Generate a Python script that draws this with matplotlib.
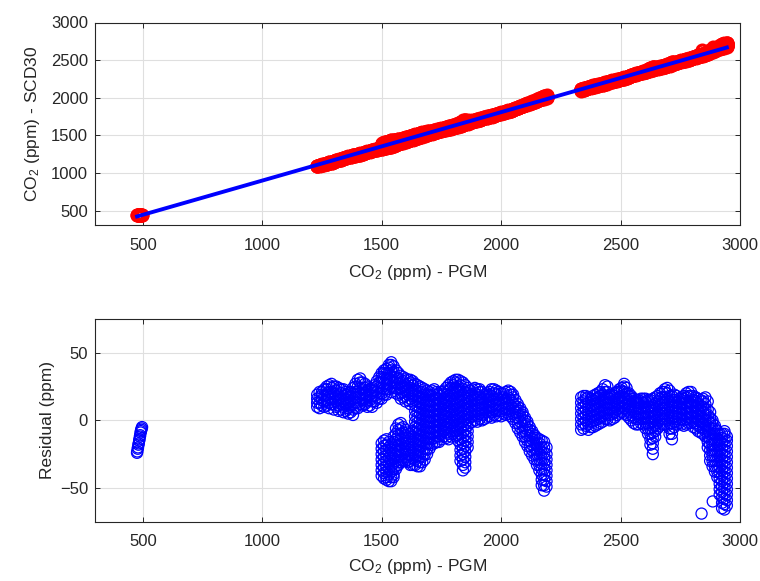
import numpy as np
import matplotlib
matplotlib.use('Agg')
import matplotlib.pyplot as plt

plt.rcParams['font.family'] = ['Liberation Sans', 'DejaVu Sans']
plt.rcParams['mathtext.fontset'] = 'custom'
plt.rcParams['mathtext.rm'] = 'Liberation Sans'
plt.rcParams['mathtext.it'] = 'Liberation Sans:italic'

# linear calibration
fit_slope = 0.909
fit_intercept = -9.0

# cluster near 500 ppm
cluster_a_pgm = [476, 477, 479, 480, 482, 483, 485, 486, 488, 489, 491, 492, 494, 495, 497]
cluster_a_res = [-24, -23, -21, -20, -18, -17, -15, -14, -12, -11, -9, -8, -7, -6, -5]

# cluster 1230-2190 ppm: PGM position and residuals read at that position
cluster_b_pgm = list(range(1230, 2200, 10))
cluster_b_res = [
    [10, 13, 16, 19],                                   # 1230
    [9, 13, 17, 21],
    [11, 15, 19, 21],
    [10, 14, 18, 23],
    [11, 15, 19, 23, 25],
    [9, 13, 17, 21, 26],                                # 1280
    [12, 16, 20, 24, 27],
    [8, 12, 16, 20, 25],
    [10, 14, 18, 22, 25],
    [7, 11, 15, 19, 24],
    [8, 12, 16, 20, 23],                                # 1330
    [6, 10, 14, 18, 23],
    [7, 11, 15, 19, 21],
    [5, 9, 13, 17, 20],
    [6, 10, 14, 18, 21],
    [4, 8, 12, 16, 20, 24],                             # 1380
    [9, 13, 17, 21, 25, 27],
    [9, 13, 17, 21, 25, 30],
    [12, 16, 20, 24, 28, 31],
    [11, 15, 19, 23, 28],
    [12, 16, 20, 24, 27],                               # 1430
    [10, 14, 18, 22, 25],
    [11, 15, 19, 23],
    [10, 14, 18, 22, 24],
    [14, 18, 22, 26],
    [13, 17, 21, 25, 29],                               # 1480
    [16, 20, 24, 28, 32],
    [16, 20, 24, 28, 32, 35, -17, -21, -25, -29, -33, -37, -41],
    [19, 23, 27, 31, 35, 37, -15, -19, -23, -27, -31, -35, -39, -43],
    [19, 23, 27, 31, 35, 38, -14, -18, -22, -26, -30, -34, -38, -42, -44],
    [23, 27, 31, 35, 39, 41, -16, -20, -24, -28, -32, -36, -40, -45],       # 1530
    [21, 25, 29, 33, 37, 41, 43, -18, -22, -26, -30, -34, -38, -42, -45],
    [24, 28, 32, 36, 40, -12, -16, -20, -24, -28, -32, -36, -40, -42],
    [20, 24, 28, 32, 37, -6, -10, -14, -18, -22, -26, -30, -34, -36],
    [19, 23, 27, 31, 35, -3, -7, -11, -15, -19, -23, -27, -31, -33],
    [16, 20, 24, 28, 33, -2, -6, -10, -14, -18, -22, -26, -31],             # 1580
    [17, 21, 25, 29, 32, -5, -9, -13, -17, -21, -25, -30],
    [14, 18, 22, 26, 31, -7, -11, -15, -19, -23, -27, -30],
    [15, 19, 23, 27, 30, -9, -13, -17, -21, -25, -29, -31],
    [12, 16, 20, 24, 28, 30, -10, -14, -18, -22, -26, -30, -33],
    [14, 18, 22, 26, 29, -8, -12, -16, -20, -24, -28, -33],                 # 1630
    [-33, -29, -25, -21, -17, -13, -9, -5, -1, 3, 7, 11, 15, 19, 23, 27],
    [-34, -30, -26, -22, -18, -14, -10, -6, -2, 2, 6, 10, 14, 18, 22, 26],
    [-34, -31, -27, -23, -19, -15, -11, -7, -3, 1, 5, 9, 13, 17, 21, 25],
    [-31, -27, -23, -19, -15, -11, -7, -3, 1, 5, 9, 13, 17, 21, 24],
    [-29, -25, -21, -17, -13, -9, -5, -1, 3, 7, 11, 15, 19, 23],            # 1680
    [-25, -21, -17, -13, -9, -5, -1, 3, 7, 11, 15, 19, 22],
    [-21, -17, -13, -9, -5, -1, 3, 7, 11, 15, 19, 21],
    [-18, -14, -10, -6, -2, 2, 6, 10, 14, 18, 22],
    [-17, -13, -9, -5, -1, 3, 7, 11, 15, 19, 23],
    [-16, -12, -8, -4, 0, 4, 8, 12, 16, 21],                                # 1730
    [-16, -12, -8, -4, 0, 4, 8, 12, 16, 20],
    [-14, -10, -6, -2, 2, 6, 10, 14, 18, 21],
    [-12, -8, -4, 0, 4, 8, 12, 16, 20, 22],
    [-13, -9, -5, -1, 3, 7, 11, 15, 19, 24],
    [-14, -10, -6, -2, 2, 6, 10, 14, 18, 22, 26],                           # 1780
    [-12, -8, -4, 0, 4, 8, 12, 16, 20, 24, 28],
    [-10, -6, -2, 2, 6, 10, 14, 18, 22, 26, 29],
    [-12, -8, -4, 0, 4, 8, 12, 16, 20, 24, 28, 30],
    [-15, -11, -7, -3, 1, 5, 9, 13, 17, 21, 25, 30],
    [-30, -26, -22, -18, -14, -10, -6, -2, 2, 6, 10, 14, 18, 22, 26, 29],   # 1830
    [-37, -33, -29, -25, -21, -17, -13, -9, -5, -1, 3, 7, 11, 15, 19, 23, 28],
    [-35, -31, -27, -23, -19, -15, -11, -7, -3, 1, 5, 9, 13, 17, 21, 26],
    [-20, -16, -12, -8, -4, 0, 4, 8, 12, 16, 20, 24],
    [-2, 2, 6, 10, 14, 18, 22],
    [-1, 3, 7, 11, 15, 19, 23],                         # 1880
    [0, 4, 8, 12, 16, 20, 24],
    [-1, 3, 7, 11, 15, 19, 23],
    [1, 5, 9, 13, 17, 21, 23],
    [0, 4, 8, 12, 16, 21],
    [1, 5, 9, 13, 16, 19],                              # 1930
    [2, 6, 10, 14, 18, 20],
    [3, 7, 11, 15, 19, 21],
    [2, 6, 10, 14, 18, 23],
    [4, 8, 12, 16, 20, 23],
    [3, 7, 11, 15, 19, 22],                             # 1980
    [4, 8, 12, 16, 21],
    [3, 7, 11, 15, 20],
    [5, 9, 13, 17, 20],
    [4, 8, 12, 16, 21],
    [5, 9, 13, 17, 22],                                 # 2030
    [3, 7, 11, 15, 19, 21],
    [1, 5, 9, 13, 17, 19],
    [-2, 2, 6, 10, 15],
    [-6, -2, 2, 6, 10, 12],
    [-9, -5, -1, 3, 7, 9],                              # 2080
    [-12, -8, -4, 0, 4, 6],
    [-16, -12, -8, -4, 0, 2],
    [-19, -15, -11, -7, -3, -1],
    [-23, -19, -15, -11, -7, -5],
    [-26, -22, -18, -14, -10, -8],                      # 2130
    [-29, -25, -21, -17, -13, -11],
    [-33, -29, -25, -21, -17, -13],
    [-37, -33, -29, -25, -21, -17, -14],
    [-48, -44, -40, -36, -32, -28, -24, -20, -15],
    [-52, -48, -44, -40, -36, -32, -28, -24, -20, -16],  # 2180
    [-49, -45, -41, -37, -33, -29, -25, -20],
]

# cluster 2335-2945 ppm
cluster_c_pgm = list(range(2335, 2950, 10))
cluster_c_res = [
    [-7, -3, 1, 5, 9, 13, 17],                          # 2335
    [-6, -2, 2, 6, 10, 14, 18],
    [-4, 0, 4, 8, 12, 16, 18],
    [-7, -3, 1, 5, 9, 13, 17],
    [-5, -1, 3, 7, 11, 16],
    [-5, -1, 3, 7, 11, 15, 18],                         # 2385
    [-4, 0, 4, 8, 12, 16, 19],
    [-3, 1, 5, 9, 13, 17, 20],
    [-2, 2, 6, 10, 14, 18, 21],
    [-1, 3, 7, 11, 15, 19, 23],
    [1, 5, 9, 13, 17, 21, 26],                          # 2435
    [1, 5, 9, 13, 17, 21, 25],
    [0, 4, 8, 12, 16, 19],
    [1, 5, 9, 13, 17, 19],
    [2, 6, 10, 14, 18, 20],
    [4, 8, 12, 16, 21],                                 # 2485
    [5, 9, 13, 17, 21, 23],
    [6, 10, 14, 18, 22, 24],
    [5, 9, 13, 17, 21, 25, 27],
    [4, 8, 12, 16, 20, 24],
    [2, 6, 10, 14, 18, 20],                             # 2535
    [0, 4, 8, 12, 16, 18],
    [-2, 2, 6, 10, 14, 16],
    [-3, 1, 5, 9, 13, 15],
    [-3, 1, 5, 9, 13, 15],
    [-2, 2, 6, 10, 14, 16],                             # 2585
    [-3, 1, 5, 9, 13, 16],
    [-6, -2, 2, 6, 10, 14, 16],
    [-10, -6, -2, 2, 6, 10, 15],
    [-18, -14, -10, -6, -2, 2, 6, 10, 15],
    [-25, -21, -17, -13, -9, -5, -1, 3, 7, 11, 16],     # 2635
    [-12, -8, -4, 0, 4, 8, 12, 17],
    [-6, -2, 2, 6, 10, 14, 18],
    [-4, 0, 4, 8, 12, 16, 20],
    [-3, 1, 5, 9, 13, 17, 21],
    [-3, 1, 5, 9, 13, 17, 21, 23],                      # 2685
    [-4, 0, 4, 8, 12, 16, 20, 24],
    [-10, -6, -2, 2, 6, 10, 14, 18, 22],
    [-14, -10, -6, -2, 2, 6, 10, 14, 18],
    [-5, -1, 3, 7, 11, 15, 19],
    [-3, 1, 5, 9, 13, 18],                              # 2735
    [-2, 2, 6, 10, 14, 16],
    [-3, 1, 5, 9, 13, 17],
    [-4, 0, 4, 8, 12, 16, 18],
    [-3, 1, 5, 9, 13, 17, 20],
    [-2, 2, 6, 10, 14, 18, 21],                         # 2785
    [-2, 2, 6, 10, 14, 18, 21],
    [-5, -1, 3, 7, 11, 15, 18],
    [-6, -2, 2, 6, 10, 14, 17],
    [-8, -4, 0, 4, 8, 12, 16],
    [-9, -5, -1, 3, 7, 11, 15],                         # 2835
    [-10, -6, -2, 2, 6, 10, 14, 16],
    [-12, -8, -4, 0, 4, 8, 12, 17],
    [-20, -16, -12, -8, -4, 0, 4, 8, 14],
    [-30, -26, -22, -18, -14, -10, -6, -2, 2, 6],
    [-34, -30, -26, -22, -18, -14, -10, -6, -2, 0],     # 2885
    [-38, -34, -30, -26, -22, -18, -14, -10, -6, -4],
    [-42, -38, -34, -30, -26, -22, -18, -14, -10, -8],
    [-55, -51, -47, -43, -39, -35, -31, -27, -23, -19, -15, -10],
    [-65, -61, -57, -53, -49, -45, -41, -37, -33, -29, -25, -21, -17, -13, -10],
    [-66, -62, -58, -54, -50, -46, -42, -38, -34, -30, -26, -22, -18, -14, -10, -8],  # 2935
    [-63, -59, -55, -51, -47, -43, -39, -35, -31, -27, -23, -19, -15, -12],
]

outlier_pgm = [2839, 2886]
outlier_res = [-69, -60]


def flatten(positions, columns):
    xs, ys = [], []
    for p, col in zip(positions, columns):
        for v in col:
            xs.append(p)
            ys.append(v)
    return xs, ys


bx, br = flatten(cluster_b_pgm, cluster_b_res)
cx, cr = flatten(cluster_c_pgm, cluster_c_res)
pgm = np.array(cluster_a_pgm + bx + cx + outlier_pgm, dtype=float)
resid = np.array(cluster_a_res + br + cr + outlier_res, dtype=float)
scd30 = fit_slope * pgm + fit_intercept - resid

dark = '#262626'
grid_c = '#dfdfdf'

fig = plt.figure(figsize=(7.6, 5.81), dpi=100)
ax1 = fig.add_axes([95 / 760, 1 - 225 / 581, 645 / 760, 202.5 / 581])
ax2 = fig.add_axes([95 / 760, 1 - 521.7 / 581, 645 / 760, 202.7 / 581])

# top panel
ax1.plot(pgm, scd30, 'o', ms=7.8, mfc='none', mec='#ff0000', mew=2.3)
line_x = np.array([pgm.min(), pgm.max()])
ax1.plot(line_x, fit_slope * line_x + fit_intercept, '-', color='#0000ff', lw=2.8)
ax1.set_xlim(300, 3000)
ax1.set_ylim(310, 3000)
ax1.set_xticks([500, 1000, 1500, 2000, 2500, 3000])
ax1.set_yticks([500, 1000, 1500, 2000, 2500, 3000])
ax1.set_xlabel(r'CO$_2$ (ppm) - PGM', fontsize=12.5, color=dark)
ax1.set_ylabel(r'CO$_2$ (ppm) - SCD30', fontsize=12.5, color=dark)

# bottom panel
ax2.scatter(pgm, resid, s=64, facecolors='none', edgecolors='#0000ff', linewidths=0.9)
ax2.set_xlim(300, 3000)
ax2.set_ylim(-75, 75)
ax2.set_xticks([500, 1000, 1500, 2000, 2500, 3000])
ax2.set_yticks([-50, 0, 50])
ax2.set_xlabel(r'CO$_2$ (ppm) - PGM', fontsize=12.5, color=dark)
ax2.set_ylabel('Residual (ppm)', fontsize=12.5, color=dark)

for ax in (ax1, ax2):
    ax.set_axisbelow(True)
    ax.grid(True, color=grid_c, lw=0.8)
    for sp in ax.spines.values():
        sp.set_color(dark)
        sp.set_linewidth(0.8)
    ax.tick_params(axis='both', direction='in', length=3.6, width=0.7,
                   color=dark, labelcolor=dark, labelsize=12,
                   top=True, right=True)
    ax.tick_params(axis='x', pad=9)
    ax.tick_params(axis='y', pad=5)

ax1.xaxis.set_label_coords(0.5, -0.19)
ax2.xaxis.set_label_coords(0.5, -0.175)
ax1.yaxis.set_label_coords(-0.082, 0.5)
ax2.yaxis.set_label_coords(-0.062, 0.5)

fig.savefig('out.png', dpi=100)
